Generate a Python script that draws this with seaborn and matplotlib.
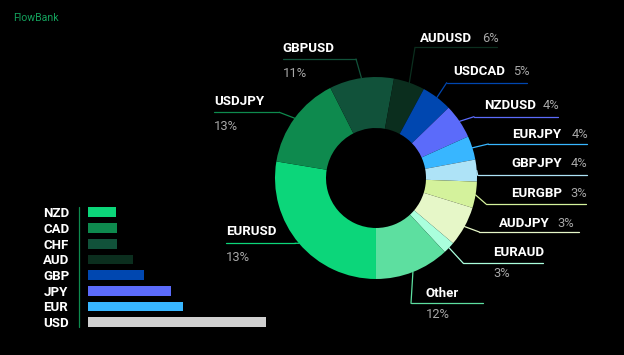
import numpy as np
import matplotlib
matplotlib.use("Agg")
import matplotlib.pyplot as plt
import seaborn as sns

sns.set_style("dark")
plt.rcParams['font.family'] = ['Roboto', 'DejaVu Sans']

# currency pairs in the donut (clockwise from the bottom)
pairs = ['EURUSD', 'USDJPY', 'GBPUSD', 'AUDUSD', 'USDCAD', 'NZDUSD',
         'EURJPY', 'GBPJPY', 'EURGBP', 'AUDJPY', 'EURAUD', 'Other']
pair_pct = ['13%', '13%', '11%', '6%', '5%', '4%', '4%', '4%', '3%', '3%', '3%', '12%']
wedge_sizes = [27.6, 14.9, 10.3, 5.0, 4.9, 5.5, 3.8, 3.5, 4.2, 6.4, 1.9, 11.9]
pair_colors = ['#0cd67a', '#0e8a4e', '#11523a', '#0b2e1e', '#0047b0', '#5b6bfa',
               '#38b6ff', '#aee3f7', '#d4f29c', '#e6f7c8', '#aaffdd', '#5ddfa0']

# single currencies bar chart
currencies = ['NZD', 'CAD', 'CHF', 'AUD', 'GBP', 'JPY', 'EUR', 'USD']
currency_share = [6.9, 7.25, 7.25, 11.1, 13.9, 20.6, 23.6, 44.4]
currency_colors = ['#0cd67a', '#0e8a4e', '#11523a', '#0b2e1e', '#0047b0',
                   '#5b6bfa', '#38b6ff', '#d0d0d0']

fig = plt.figure(figsize=(6.24, 3.55), dpi=100, facecolor='black')

#bars (added first so the donut sits on top)
bx = fig.add_axes([0.1415, 0.0707, 0.3205, 0.3532])
sns.barplot(x=currency_share, y=currencies, hue=currencies, palette=currency_colors,
            legend=False, saturation=1, width=0.62, linewidth=0, orient='h', ax=bx)
bx.patch.set_alpha(0)
bx.set_xlim(0, 50)
bx.set_xticks([])
bx.set_xlabel('')
bx.set_ylabel('')
for s in bx.spines.values():
    s.set_visible(False)
bx.set_yticks(range(len(currencies)))
bx.set_yticklabels(currencies, ha='left', fontweight='bold', color='white', fontsize=9.5)
bx.tick_params(axis='y', length=0, pad=32.4)

#donut
pax = fig.add_axes([0.4407, 0.2141, 0.3237, 0.569])
wedges, _ = pax.pie(wedge_sizes, colors=pair_colors, startangle=-90, counterclock=False,
                    radius=1, wedgeprops=dict(width=0.505, linewidth=0))
pax.set_xlim(-1, 1)
pax.set_ylim(-1, 1)

# overlay in pixel coords for labels
ov = fig.add_axes([0, 0, 1, 1])
ov.set_xlim(0, 624)
ov.set_ylim(355, 0)
ov.axis('off')

ov.text(13.3, 20.7, 'FlowBank', color='#14a05c', fontsize=7.6, va='baseline')
ov.plot([79.3, 79.3], [207, 327], color='#0e8a4e', lw=0.9)

# label layout: kind, name x, name baseline, pct x, pct baseline, line x0, line x1, line y, leader start x
layout = {
    'GBPUSD': ('stack', 282.7, 51.7, 282.7, 76.7, 282.7, 356, 59, 356),
    'USDJPY': ('stack', 214, 105, 214, 130, 214, 279.3, 112.3, 279.3),
    'EURUSD': ('stack', 226, 235, 226, 260.7, 226, 295, 243.3, 295),
    'EURAUD': ('stack', 492.7, 255.7, 493.3, 277.3, 463.3, 542.7, 263.3, 463.3),
    'Other': ('stack', 425.7, 296.7, 425.7, 318.3, 411, 483.3, 303.3, 411),
    'AUDUSD': ('row', 420, 41.7, 481.7, 41.7, 415, 496.7, 47.3, 415),
    'USDCAD': ('row', 453, 75, 512.7, 75, 446.7, 527.3, 82.7, 446.7),
    'NZDUSD': ('row', 484, 109.3, 542.7, 109.3, 474, 557.7, 116.7, 474),
    'EURJPY': ('row', 512.3, 137.7, 571.7, 137.7, 488.3, 587.3, 144, 488.3),
    'GBPJPY': ('row', 511.7, 166.7, 570.7, 166.7, 477.7, 587.3, 175.3, 477.7),
    'EURGBP': ('row', 511, 197.3, 570.7, 197.3, 486, 586, 204, 486),
    'AUDJPY': ('row', 499, 227.3, 557.7, 227.3, 479.3, 579, 232, 479.3),
}

for w, name, pct, col in zip(wedges, pairs, pair_pct, pair_colors):
    kind, nx, ny, px, py, x0, x1, ly, lx = layout[name]
    ov.text(nx, ny, name, color='white', fontweight='bold', fontsize=9.5, va='baseline')
    ov.text(px, py, pct, color='#a8a8a8', fontsize=9.3, va='baseline')
    ov.plot([x0, x1], [ly, ly], color=col, lw=0.9)
    mid = np.deg2rad((w.theta1 + w.theta2) / 2)
    ov.annotate('', xy=(np.cos(mid), np.sin(mid)), xycoords=pax.transData,
                xytext=(lx, ly), textcoords='data',
                arrowprops=dict(arrowstyle='-', color=col, lw=0.9, shrinkA=0, shrinkB=0))

plt.savefig('out.png', dpi=100, facecolor='black')
